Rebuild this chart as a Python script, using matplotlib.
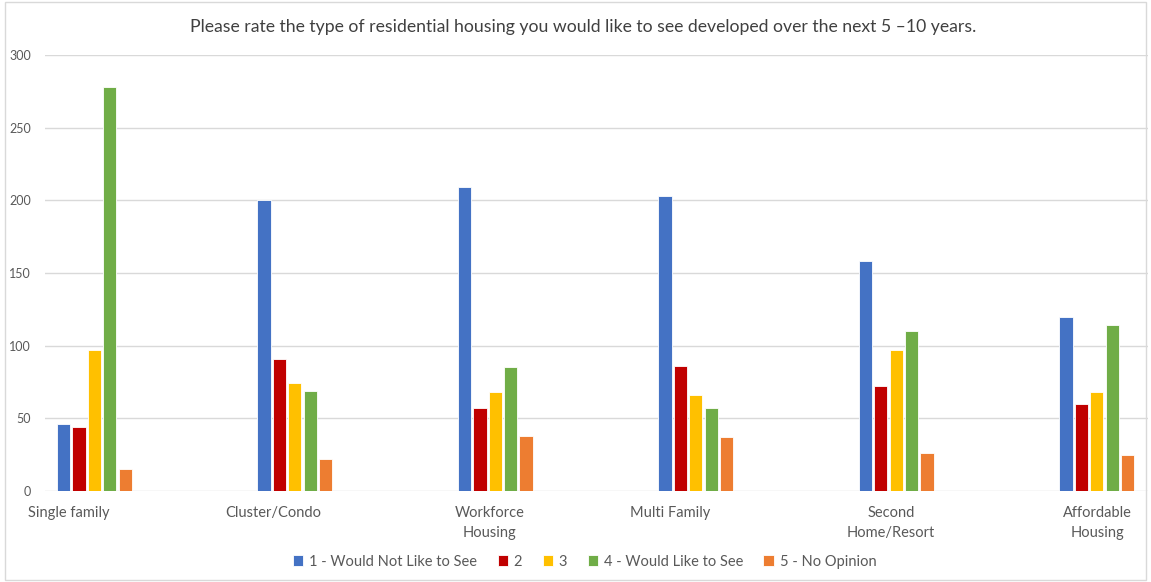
import matplotlib.pyplot as plt
from matplotlib.patches import Rectangle

categories = ["Single family", "Cluster/Condo", "Workforce\nHousing", "Multi Family",
              "Second\nHome/Resort", "Affordable\nHousing"]
series_names = ["1 - Would Not Like to See", "2", "3", "4 - Would Like to See", "5 - No Opinion"]
not_like = [46, 200, 209, 203, 158, 120]
rating_2 = [44, 91, 57, 86, 72, 60]
rating_3 = [97, 74, 68, 66, 97, 68]
would_like = [278, 69, 85, 57, 110, 114]
no_opinion = [15, 22, 38, 37, 26, 25]
yticks = [0, 50, 100, 150, 200, 250, 300]

colors = ["#4472C4", "#C00000", "#FFC000", "#70AD47", "#ED7D31"]
series = [not_like, rating_2, rating_3, would_like, no_opinion]
# label offsets relative to group start, as laid out in the original chart
label_pos = [0.06, 1.08, 2.16, 3.06, 4.16, 5.19]

plt.rcParams['font.family'] = ['Lato', 'DejaVu Sans']

fig = plt.figure(figsize=(11.51, 5.82), dpi=100)
fig.patches.append(Rectangle((0.004, 0.004), 0.992, 0.992, transform=fig.transFigure,
                             fill=False, edgecolor="#d9d9d9", linewidth=1))
ax = fig.add_axes([0.039, 0.1565, 0.958, 0.749])

step = 0.0768
for j, (vals, col, name) in enumerate(zip(series, colors, series_names)):
    xs = [i + j * step for i in range(len(categories))]
    ax.bar(xs, vals, width=0.066, align='edge', color=col, edgecolor='white',
           linewidth=0.6, label=name, zorder=3)

ax.set_xlim(-0.06, 5.44)
ax.set_ylim(0, 300)
ax.set_yticks(yticks)
ax.set_xticks(label_pos)
ax.set_xticklabels(categories, fontsize=10.5, color="#595959", linespacing=1.5)
ax.tick_params(axis='both', length=0)
ax.tick_params(axis='y', labelsize=9, labelcolor="#595959", pad=10)
ax.tick_params(axis='x', pad=11)
ax.grid(axis='y', color="#d9d9d9", linewidth=1, zorder=0)
for s in ax.spines.values():
    s.set_visible(False)

fig.text(0.507, 0.953, "Please rate the type of residential housing you would like to see developed over the next 5 \u201310 years.",
         ha='center', va='center', fontsize=12.7, color="#404040")

fig.legend(loc='center', bbox_to_anchor=(0.508, 0.035), ncol=5, frameon=False,
           fontsize=10.5, handlelength=0.7, handleheight=0.7, handletextpad=0.4,
           columnspacing=1.4, labelcolor="#595959")

plt.savefig("out.png")
